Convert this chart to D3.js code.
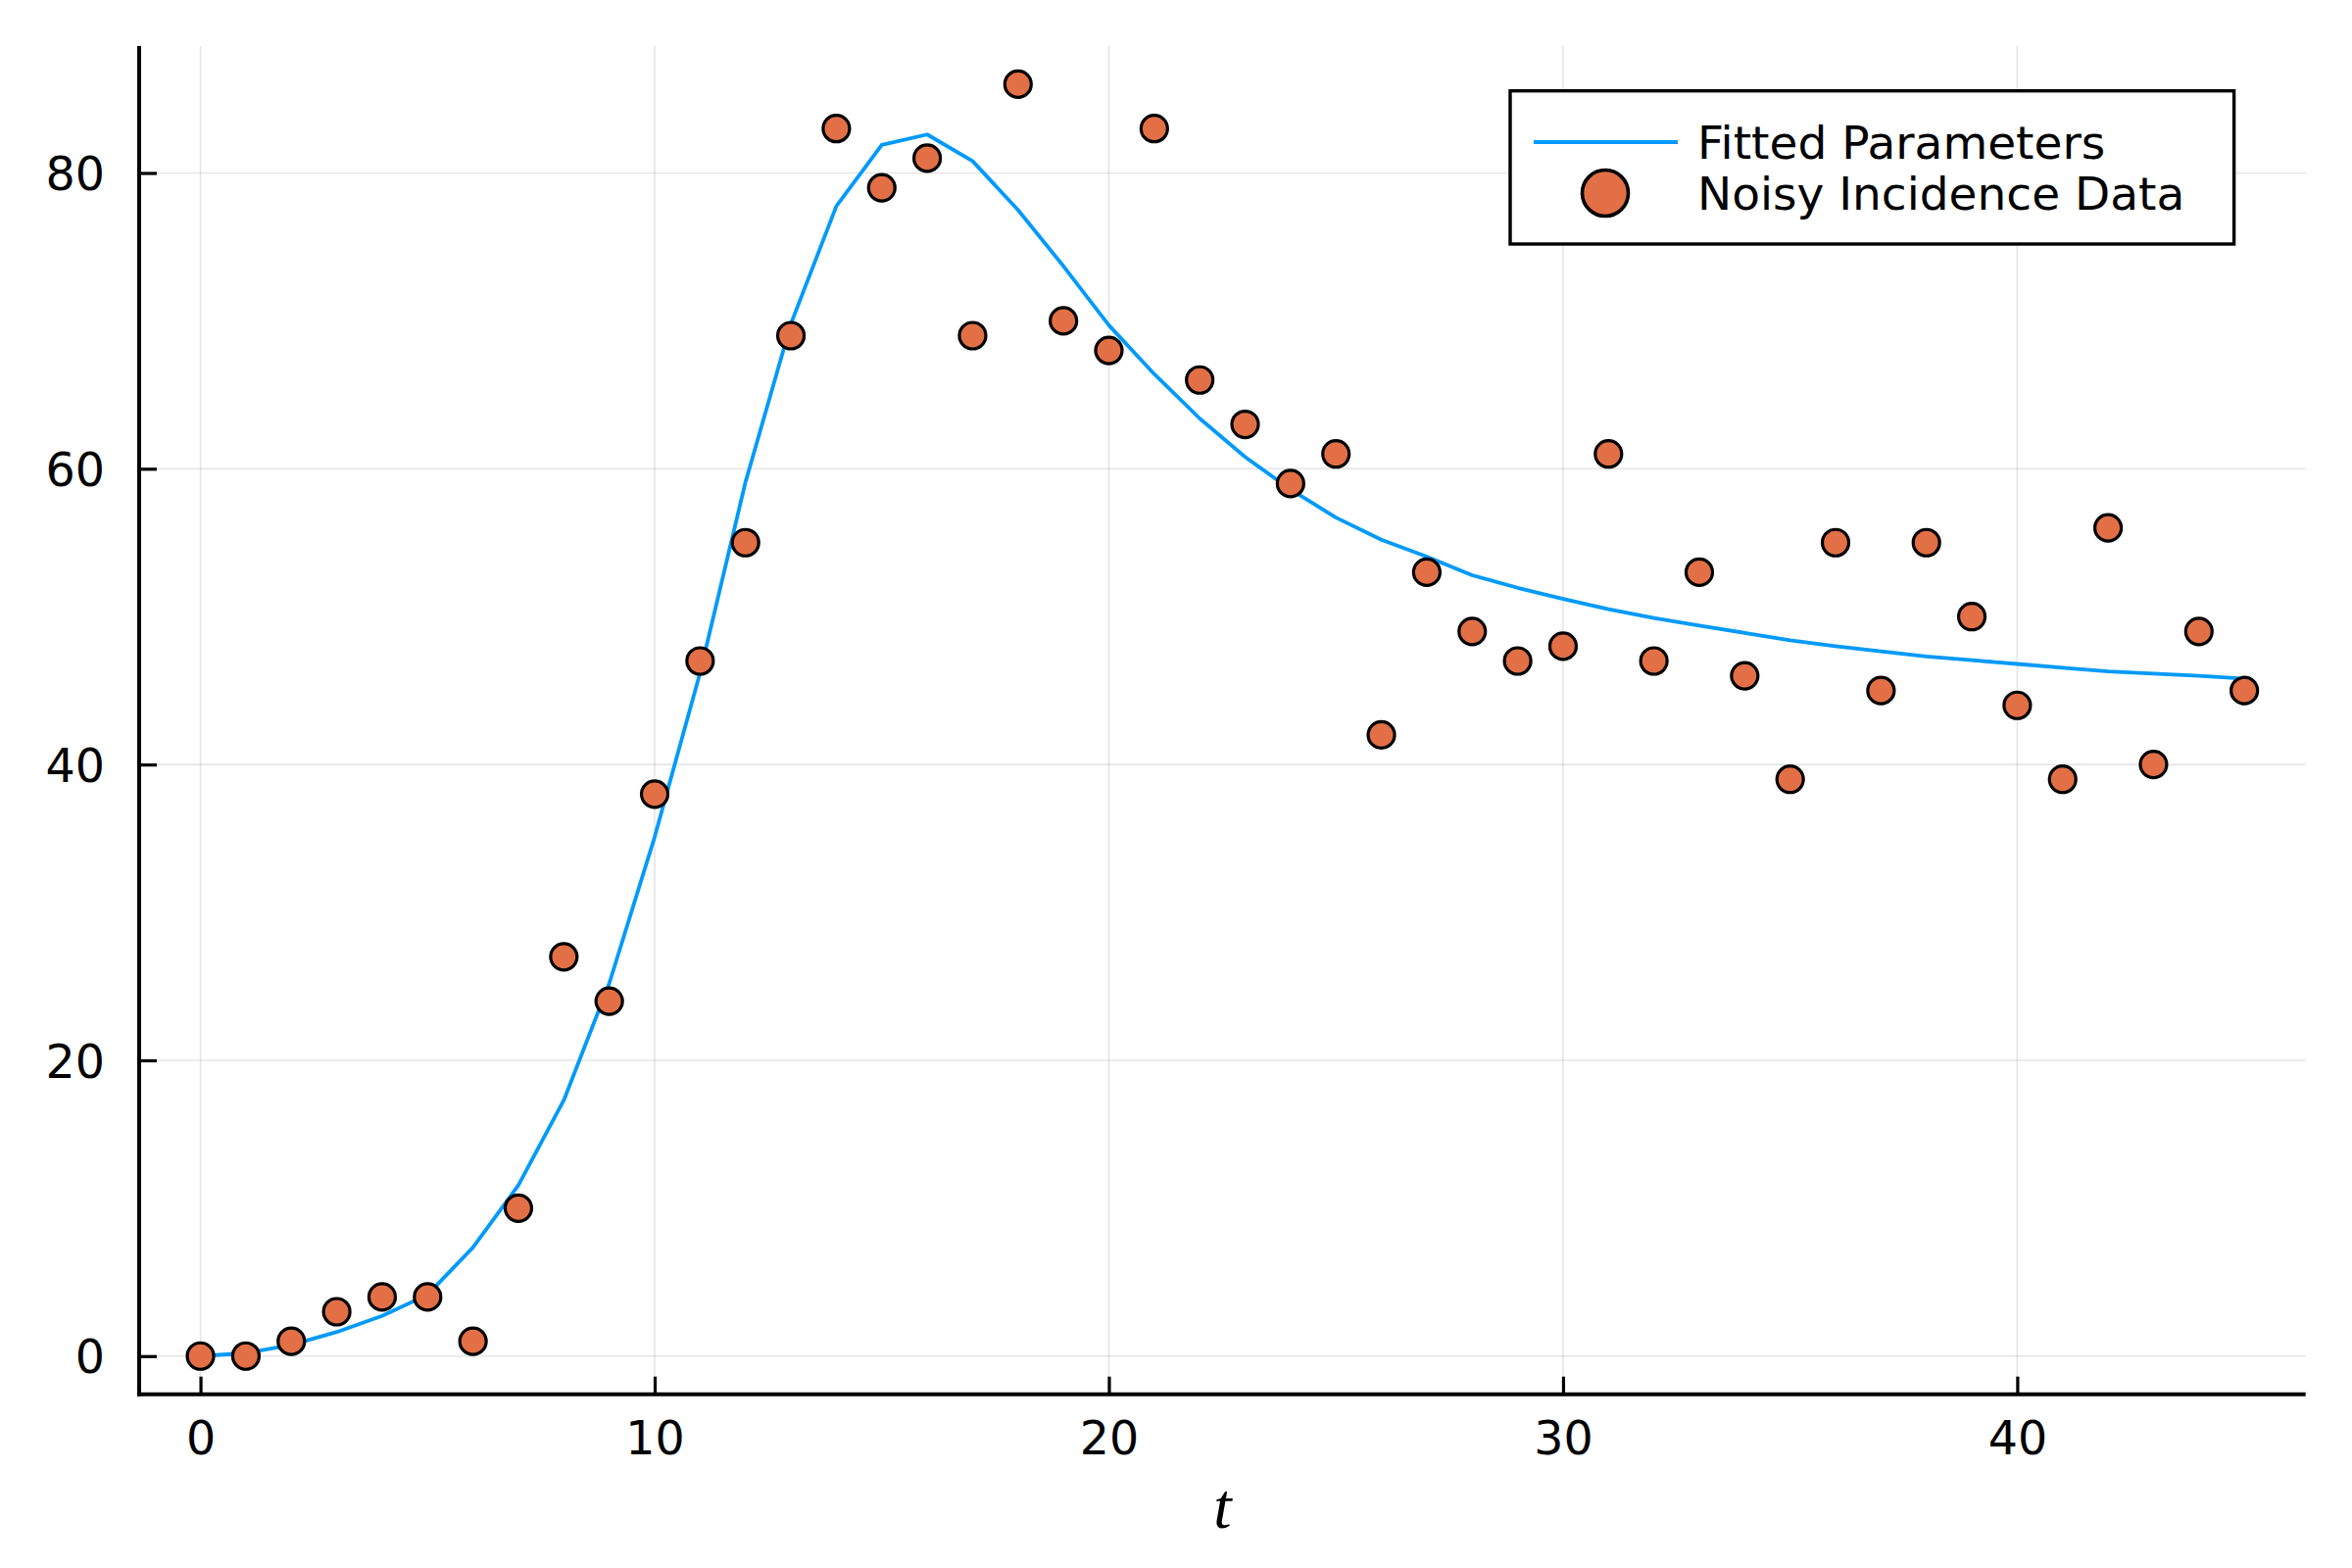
<!DOCTYPE html>
<html>
<head>
<meta charset="utf-8">
<script src="https://cdn.jsdelivr.net/npm/d3@7"></script>
<style>
  html, body { margin: 0; padding: 0; background: #fff; }
  svg { display: block; }
</style>
</head>
<body>
<script>
// ---- data ----
const tValues = d3.range(0, 46);
const noisyIncidence = [0, 0, 1, 3, 4, 4, 1, 10, 27, 24, 38, 47, 55, 69, 83, 79, 81, 69, 86, 70,
  68, 83, 66, 63, 59, 61, 42, 53, 49, 47, 48, 61, 47, 53, 46, 39, 55, 45, 55, 50,
  44, 39, 56, 40, 49, 45];
const fittedValues = [0, 0.2, 0.75, 1.63, 2.72, 4.15, 7.35, 11.55, 17.3, 25.2, 35.1, 46.2, 59.1, 69.8,
  77.75, 81.9, 82.6, 80.8, 77.5, 73.7, 69.7, 66.4, 63.4, 60.8, 58.6, 56.7, 55.2, 54.05,
  52.8, 51.95, 51.2, 50.5, 49.9, 49.4, 48.9, 48.4, 48.0, 47.65, 47.3, 47.05, 46.8,
  46.55, 46.3, 46.15, 46.0, 45.8];
const xTicks = [0, 10, 20, 30, 40];
const yTicks = [0, 20, 40, 60, 80];
const seriesNames = ["Fitted Parameters", "Noisy Incidence Data"];
const xLabel = "t";

// ---- layout ----
const W = 2400, H = 1600;
const L = 142, T = 47, R = 2352.7, B = 1422.7;
const lineColor = "#009AFA", markerColor = "#E26F46";
const font = "'DejaVu Sans', sans-serif";

const svg = d3.select("body").append("svg").attr("width", W).attr("height", H);
svg.append("rect").attr("width", W).attr("height", H).attr("fill", "#fff");

const xPad = (45 - 0) * 0.03, yPad = (86 - 0) * 0.03;
const x = d3.scaleLinear().domain([0 - xPad, 45 + xPad]).range([L, R]);
const y = d3.scaleLinear().domain([0 - yPad, 86 + yPad]).range([B, T]);

// grid
const grid = svg.append("g");
grid.selectAll(".gx").data(xTicks).join("line")
  .attr("x1", d => x(d)).attr("x2", d => x(d)).attr("y1", T).attr("y2", B)
  .attr("stroke", "rgba(0,0,0,0.1)").attr("stroke-width", 1.6);
grid.selectAll(".gy").data(yTicks).join("line")
  .attr("y1", d => y(d)).attr("y2", d => y(d)).attr("x1", L).attr("x2", R)
  .attr("stroke", "rgba(0,0,0,0.1)").attr("stroke-width", 1.6);

// axes
const xAxis = d3.axisBottom(x).tickValues(xTicks).tickSize(-18).tickPadding(28).tickFormat(d3.format("d"));
const yAxis = d3.axisLeft(y).tickValues(yTicks).tickSize(-18).tickPadding(35).tickFormat(d3.format("d"));

const gx = svg.append("g").attr("transform", `translate(0,${B})`).call(xAxis);
const gy = svg.append("g").attr("transform", `translate(${L},0)`).call(yAxis);
[gx, gy].forEach(g => {
  g.select(".domain").remove();
  g.selectAll(".tick line").attr("stroke", "#000").attr("stroke-width", 3.2);
  g.selectAll(".tick text").attr("fill", "#000").attr("font-family", font).attr("font-size", 47.5);
});
gx.selectAll(".tick text").attr("dy", "0.71em").attr("y", 28);
gy.selectAll(".tick text").attr("dy", "0.36em").attr("x", -35);

svg.append("line").attr("x1", L - 2).attr("x2", R).attr("y1", B).attr("y2", B)
  .attr("stroke", "#000").attr("stroke-width", 4);
svg.append("line").attr("x1", L).attr("x2", L).attr("y1", T).attr("y2", B + 2)
  .attr("stroke", "#000").attr("stroke-width", 4);

// fitted line
const line = d3.line().x((d, i) => x(tValues[i])).y(d => y(d));
svg.append("path").datum(fittedValues).attr("d", line)
  .attr("fill", "none").attr("stroke", lineColor).attr("stroke-width", 3.8)
  .attr("stroke-linejoin", "round");

// points
svg.append("g").selectAll("circle").data(noisyIncidence).join("circle")
  .attr("cx", (d, i) => x(tValues[i])).attr("cy", d => y(d)).attr("r", 13.5)
  .attr("fill", markerColor).attr("stroke", "#000").attr("stroke-width", 3.2);

// x label
svg.append("text").attr("x", (L + R) / 2).attr("y", 1559).attr("text-anchor", "middle")
  .attr("font-family", "'Liberation Serif', 'DejaVu Serif', serif").attr("font-style", "italic")
  .attr("font-size", 66).attr("fill", "#000").text(xLabel);

// legend
const lg = svg.append("g");
lg.append("rect").attr("x", 1541).attr("y", 92.7).attr("width", 2279.6 - 1541).attr("height", 249 - 92.7)
  .attr("fill", "#fff").attr("stroke", "#000").attr("stroke-width", 3.4);
lg.append("line").attr("x1", 1565).attr("x2", 1712).attr("y1", 145).attr("y2", 145)
  .attr("stroke", lineColor).attr("stroke-width", 3.8);
lg.append("circle").attr("cx", 1638).attr("cy", 197).attr("r", 23.5)
  .attr("fill", markerColor).attr("stroke", "#000").attr("stroke-width", 3.6);
lg.selectAll("text").data(seriesNames).join("text")
  .attr("x", 1732).attr("y", (d, i) => i === 0 ? 161.7 : 214)
  .attr("font-family", font).attr("font-size", 47).attr("fill", "#000").text(d => d);
</script>
</body>
</html>
